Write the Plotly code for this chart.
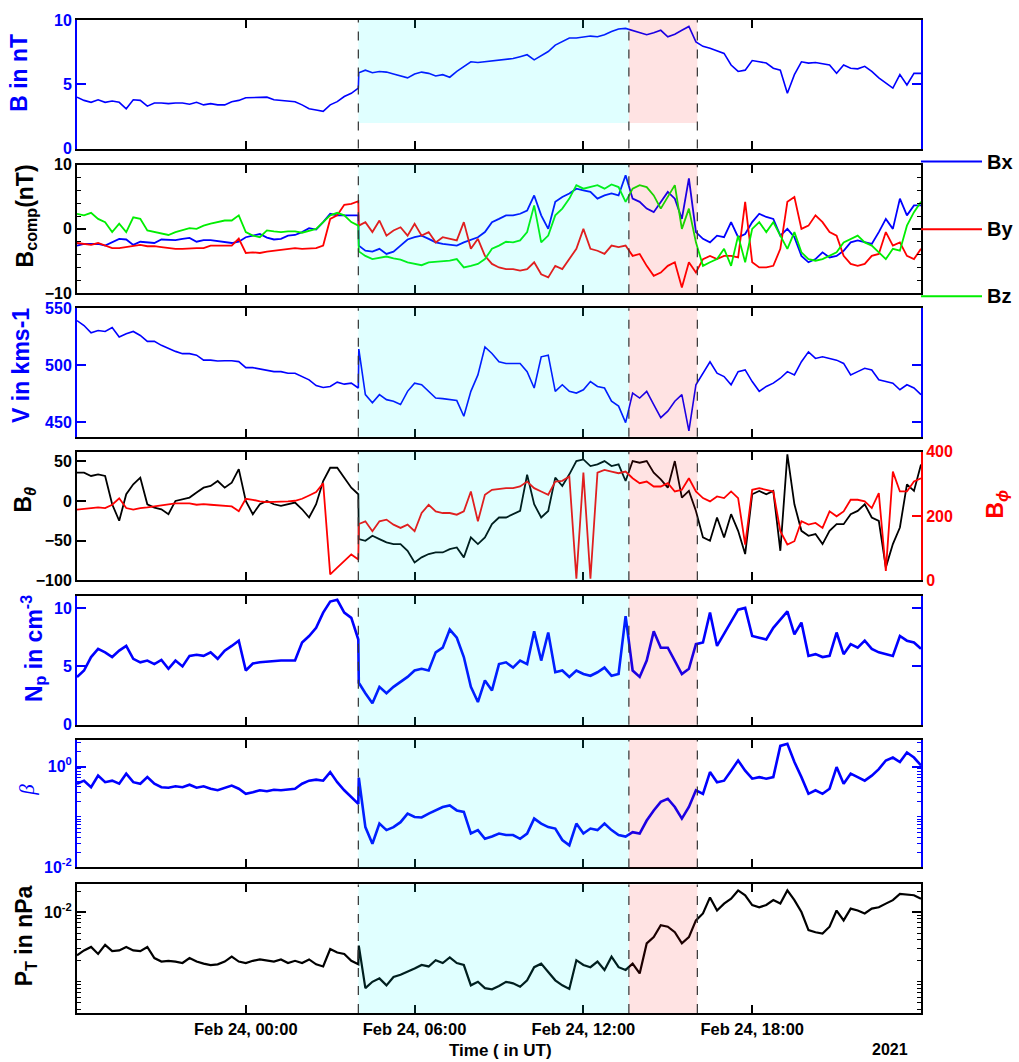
import plotly.graph_objects as go
import pandas as pd

# 15-minute samples, Feb 23 18:00 UT -> Feb 25 00:00 UT,
# plus one extra sample one minute after the shock at 04:00
time = list(pd.date_range("2021-02-23 18:00", "2021-02-25 00:00", freq="15min"))
time.insert(41, pd.Timestamp("2021-02-24 04:01"))

shock = "2021-02-24 04:00"
mc_start = "2021-02-24 13:37"
mc_end = "2021-02-24 16:03"

b_total = [4.0, 3.75, 3.6, 3.8, 3.6, 3.7, 3.6, 3.1, 3.8, 3.75,
           3.3, 3.55, 3.55, 3.5, 3.55, 3.55, 3.45, 3.6, 3.4, 3.5,
           3.4, 3.4, 3.65, 3.75, 3.95, 3.95, 4.0, 4.0, 3.8, 3.75,
           3.7, 3.65, 3.4, 3.1, 3.0, 2.9, 3.4, 3.65, 4.05, 4.3,
           4.7, 5.9, 6.1, 5.9, 6.0, 5.95, 5.8, 5.65, 5.5, 5.8, 5.95,
           5.85, 5.65, 5.75, 5.55, 6.0, 6.4, 6.75, 6.7, 6.75, 6.85,
           6.9, 6.9, 7.0, 7.15, 7.3, 6.9, 7.2, 7.55, 8.05, 8.3,
           8.6, 8.6, 8.7, 8.75, 8.7, 8.85, 9.1, 9.3, 9.35, 9.2,
           9.0, 8.85, 9.0, 9.2, 8.7, 8.9, 9.2, 9.5, 8.3, 7.95,
           7.8, 7.6, 7.4, 6.5, 6.0, 6.1, 6.85, 6.75, 6.65, 6.25,
           6.1, 4.3, 5.75, 6.75, 6.65, 6.7, 6.6, 6.5, 5.85, 6.5,
           6.25, 6.2, 6.4, 6.0, 5.5, 5.1, 4.7, 5.75, 4.95, 5.85,
           5.85]

bx = [-2.6, -2.35, -2.35, -2.35, -2.6, -2.1, -1.55, -1.65, -2.5, -2.0,
      -2.1, -2.2, -1.65, -1.65, -1.75, -1.55, -1.4, -2.0, -1.75, -1.75,
      -1.9, -2.1, -2.2, -2.0, -1.3, -1.05, -0.8, -1.35, -1.65, -1.55,
      -1.05, -0.95, -0.5, 0.1, -0.1, 1.05, 2.35, 2.1, 2.1, 2.1,
      2.1, -2.6, -3.4, -3.55, -3.1, -3.9, -3.55, -2.6, -1.65, -1.3, -1.05,
      -1.55, -2.1, -2.35, -2.5, -2.6, -2.1, -1.65, -1.3, -0.5, 1.05,
      1.55, 2.1, 2.1, 2.35, 2.85, 5.2, 2.1, 0.0, 4.2, 4.95,
      5.5, 6.25, 6.0, 5.75, 4.7, 5.2, 5.5, 5.2, 8.35, 4.7,
      4.2, 3.15, 2.6, 4.2, 5.75, 4.7, 1.55, 7.85, -0.5, -1.55,
      -2.1, -1.05, -1.3, 1.05, -1.3, -0.8, 1.05, 2.35, 1.85, 1.55,
      -1.05, 0.0, -1.3, -4.2, -5.2, -4.7, -3.65, -4.45, -4.2, -3.4,
      -2.1, -1.8, -2.1, -2.35, -0.5, 1.55, 0.0, 4.7, 2.1, 3.65,
      3.65]

by = [-2.2, -2.35, -2.5, -2.2, -2.6, -3.0, -3.0, -2.85, -2.6, -2.5,
      -2.7, -2.7, -2.85, -3.0, -3.1, -3.1, -3.0, -3.0, -3.0, -2.6,
      -2.6, -2.6, -2.6, -1.5, -3.75, -3.65, -3.75, -3.55, -3.4, -3.25,
      -3.1, -3.0, -3.1, -3.0, -3.0, -2.6, 1.55, 2.1, 3.75, 3.9,
      4.3, 0.5, 1.05, -0.5, 1.3, -1.05, -0.25, 0.25, -1.05, 0.8, -1.05,
      -0.5, -2.1, -1.3, -1.55, -1.8, 1.05, -3.1, -1.55, -4.2, -5.45,
      -6.0, -6.25, -6.25, -6.5, -6.25, -5.2, -7.05, -7.55, -5.75, -6.25,
      -4.7, -3.1, 0.0, -3.1, -3.4, -3.9, -2.6, -2.85, -2.6, -4.2,
      -3.9, -5.75, -7.3, -6.8, -5.75, -5.2, -9.1, -5.2, -6.8, -4.7,
      -4.2, -4.7, -4.2, -4.2, -4.45, 4.2, -5.2, -6.0, -6.0, -5.75,
      -3.1, 4.2, 4.95, 0.0, 0.5, 2.1, 1.05, -0.5, -1.05, -4.2,
      -5.45, -5.75, -5.45, -4.2, -3.9, -0.5, -2.6, -2.1, -4.2, -4.7,
      -3.1]

bz = [2.35, 2.1, 2.5, 1.55, 1.05, -0.5, 0.8, -0.5, 1.8, 1.55,
      -0.25, -0.5, -0.8, -0.95, -0.5, -0.25, 0.1, 0.0, 0.5, 0.8,
      1.05, 1.3, 1.3, 2.1, -0.5, -1.05, -1.3, -0.25, -0.4, -0.5,
      -0.4, -0.4, -0.6, -0.25, 0.0, 1.05, 2.1, 2.5, 2.1, 1.05,
      0.5, -3.5, -4.2, -4.7, -4.45, -4.3, -4.6, -4.8, -5.2, -5.45, -5.65,
      -5.2, -5.1, -5.1, -4.95, -4.7, -6.0, -5.75, -5.45, -4.7, -3.1,
      -2.6, -2.0, -2.1, -1.8, -0.5, 3.65, -2.1, -1.05, 2.1, 3.15,
      4.7, 6.8, 6.25, 6.5, 6.8, 6.25, 6.9, 6.5, 4.2, 6.25,
      6.8, 6.5, 5.2, 3.15, 4.95, 6.8, 0.0, 3.15, -2.1, -5.75,
      -5.2, -4.7, -3.1, -5.75, -1.05, -5.2, 0.0, 1.05, -0.5, 1.05,
      -1.05, -3.1, -0.5, -3.65, -4.7, -4.95, -4.7, -4.2, -3.65, -2.1,
      -1.55, -1.05, -2.1, -2.6, -3.65, -4.7, -3.1, -3.4, 0.5, 2.6,
      4.2]

speed = [539, 534.7, 528.3, 530.3, 529.5, 533, 524.6, 527.5, 529.5, 526,
         520.8, 520.8, 517.3, 514.5, 512, 510, 510, 508.7, 504.3, 504.3,
         503.5, 503.8, 503.8, 503, 497.7, 497.7, 496.5, 495.7, 494.2, 494.2,
         492.8, 492.8, 490, 487, 482, 480.3, 481.2, 485, 483.2, 484.1,
         479.8, 514, 474, 466.8, 474, 469.6, 468.2, 465.3, 476.9, 484.1, 482.7,
         476.9, 471, 470.5, 469.6, 468.8, 455, 476.9, 491.3, 515.9, 510.1,
         502.9, 501.4, 501.4, 501.4, 494.2, 479.8, 507.2, 508.7, 476.9, 482.7,
         476.9, 475.4, 478.3, 485.5, 481.2, 479.8, 468.2, 463.9, 449.4, 475.4,
         471, 476.9, 465.3, 453.8, 459.5, 468.2, 474, 442.2, 482.7, 492.8,
         502.9, 492.8, 489.9, 482.7, 494.2, 495.7, 485.5, 476.9, 481.2, 484.1,
         488.4, 494.2, 491.3, 502.9, 511.6, 505.8, 507.2, 505.8, 504.3, 501.4,
         491.3, 494.2, 497.1, 495.7, 487, 485.5, 484.1, 478.3, 482.7, 479.8,
         474]

b_theta = [35.6, 35.6, 31.4, 33.5, 31.4, -4.2, -25, 8.4, 20.9, 29.3,
           -4.2, -8.4, -10.5, -16.7, 0, 2.1, 4.2, 10.5, 16.7, 18.8,
           25.1, 16.7, 23, 40, 0, -16.7, -4.2, 0, -4.2, -6.3,
           -4.2, -2.1, -10.5, -20.9, -4.2, 25.1, 41.8, 41.8, 29.3, 16.7,
           8.4, -48, -50.2, -43.9, -48.1, -52.3, -54.4, -54.4, -62.8, -77.4, -71.1,
           -66.9, -64.9, -64.9, -60.7, -58.6, -71.1, -46, -54.4, -46, -29.3,
           -20.9, -20.9, -16.7, -12.6, 33, -4.2, -20.9, -12.6, 29.3, 18.8,
           33.5, 50.2, 52.3, 43.9, 46, 50.2, 43.9, 46, 25.1, 50.2,
           48.1, 50.2, 35.6, 27.2, 16.7, 50.2, 4.2, 12.6, -12.6, -46,
           -50.2, -20.9, -46, -16.7, -37.7, -66.9, 8.4, 12.6, 8.4, 12.6,
           -62.8, 58.6, -4.2, -37.7, -43.9, -41.8, -54.4, -37.7, -29.3, -29.3,
           -16.7, -12.6, -4.2, -20.9, -25.1, -83.7, -54.4, -33.5, 20.9, 12.6,
           46]

b_phi = [219.6, 222.7, 224.7, 226.8, 224.7, 235, 255, 224.7, 219.6, 224.7,
         226.8, 229.9, 232, 235, 239.2, 239.2, 239.2, 235, 237.1, 235,
         233, 232, 229.9, 215, 253.6, 250.5, 245.4, 243.3, 243.3, 243.3,
         245.4, 247.4, 253.6, 263.9, 274.2, 302, 18.6, 39.2, 59.8, 80.4,
         65, 175, 183.5, 152.6, 183.5, 188.7, 173.2, 162.9, 173.2, 152.6, 209.3,
         235, 214.4, 209.3, 209.3, 204.1, 214.4, 276.3, 183.5, 266, 281.4,
         284.5, 286.6, 286.6, 291.8, 307.2, 286.6, 276.3, 266, 307.2, 309.3,
         322.7, 5, 335, 5, 335, 343.3, 338.1, 333, 338.1, 317.5,
         302, 307.2, 291.8, 291.8, 302, 276.3, 281.4, 317.5, 276.3, 255.7,
         245.4, 260.8, 255.7, 276.3, 255.7, 111.3, 281.4, 286.6, 281.4, 276.3,
         152.6, 111.3, 121.6, 183.5, 173.2, 178.4, 162.9, 214.4, 199, 214.4,
         250.5, 250.5, 245.4, 224.7, 271.1, 28.9, 338.1, 276.3, 276.3, 307.2,
         317.5]

n_p = [4.1, 4.65, 5.8, 6.5, 6.2, 5.8, 6.35, 6.75, 5.65, 5.35,
       5.5, 5.2, 5.55, 4.8, 5.5, 5.0, 5.9, 6.0, 5.9, 6.2,
       5.65, 6.35, 6.75, 7.2, 4.65, 5.25, 5.35, 5.4, 5.5, 5.5,
       5.5, 5.5, 7.05, 7.6, 8.3, 9.6, 10.55, 10.7, 9.6, 9.15,
       7.3, 3.6, 2.7, 1.85, 3.25, 2.7, 3.25, 3.65, 4.1, 4.65, 4.8,
       4.65, 6.2, 6.6, 8.15, 7.45, 5.8, 3.25, 1.95, 3.8, 2.95,
       5.2, 5.35, 4.9, 5.5, 5.2, 8.0, 5.5, 7.9, 4.5, 4.65,
       4.1, 4.65, 4.35, 4.2, 4.5, 4.9, 4.2, 4.35, 9.3, 4.65,
       4.1, 5.5, 8.0, 6.6, 6.6, 5.5, 4.35, 4.8, 6.9, 7.05,
       9.6, 6.75, 7.75, 8.75, 9.85, 10.0, 7.6, 7.45, 7.3, 8.3,
       9.0, 9.7, 7.75, 8.75, 5.9, 6.05, 5.8, 5.9, 7.9, 6.05,
       6.9, 6.6, 7.2, 6.5, 6.2, 6.05, 5.9, 7.6, 7.2, 7.05,
       6.5]

beta = [0.457, 0.525, 0.389, 0.661, 0.49, 0.525, 0.457, 0.724, 0.49, 0.457,
        0.617, 0.457, 0.389, 0.38, 0.407, 0.389, 0.437, 0.38, 0.407, 0.363,
        0.339, 0.38, 0.42, 0.363, 0.288, 0.309, 0.339, 0.324, 0.347, 0.339,
        0.347, 0.363, 0.457, 0.525, 0.55, 0.525, 0.776, 0.49, 0.339, 0.245,
        0.182, 0.6, 0.063, 0.0295, 0.074, 0.055, 0.063, 0.079, 0.117, 0.1, 0.098,
        0.117, 0.135, 0.158, 0.17, 0.135, 0.126, 0.047, 0.055, 0.037, 0.041,
        0.047, 0.044, 0.044, 0.037, 0.047, 0.093, 0.074, 0.063, 0.059, 0.035,
        0.0275, 0.074, 0.047, 0.059, 0.055, 0.074, 0.055, 0.044, 0.041, 0.05,
        0.047, 0.085, 0.135, 0.2, 0.23, 0.158, 0.093, 0.158, 0.339, 0.288,
        0.776, 0.49, 0.525, 0.83, 1.32, 0.83, 0.575, 0.617, 0.575, 0.617,
        2.57, 2.82, 1.23, 0.617, 0.288, 0.339, 0.288, 0.363, 0.977, 0.457,
        0.724, 0.617, 0.525, 0.661, 0.89, 1.32, 1.51, 1.23, 1.9, 1.51,
        1.05]

p_total = [0.0024, 0.00282, 0.00316, 0.00251, 0.00339, 0.00275, 0.00282, 0.00316, 0.00282, 0.00275,
           0.00316, 0.00219, 0.00195, 0.002, 0.00195, 0.00186, 0.00219, 0.00195, 0.00182, 0.00174,
           0.00178, 0.00195, 0.00229, 0.00195, 0.00186, 0.002, 0.00209, 0.002, 0.00195, 0.00209,
           0.00186, 0.002, 0.00186, 0.00209, 0.00178, 0.00166, 0.00295, 0.00263, 0.00251, 0.002,
           0.00178, 0.0033, 0.00081, 0.001, 0.00112, 0.00089, 0.00117, 0.00126, 0.00138, 0.00155, 0.00174,
           0.00166, 0.00204, 0.00186, 0.00224, 0.00186, 0.00174, 0.00089, 0.001, 0.00081, 0.00078,
           0.00087, 0.001, 0.00095, 0.00085, 0.00105, 0.00162, 0.00182, 0.00138, 0.00105, 0.00089,
           0.00079, 0.00204, 0.00174, 0.00162, 0.00195, 0.00148, 0.00229, 0.00162, 0.00148, 0.00182,
           0.00132, 0.00355, 0.00437, 0.00646, 0.00617, 0.00513, 0.00355, 0.00437, 0.00759, 0.00955,
           0.0162, 0.0105, 0.0132, 0.0155, 0.0204, 0.0174, 0.0126, 0.0117, 0.0126, 0.0148,
           0.0132, 0.0204, 0.0148, 0.01, 0.0055, 0.00513, 0.0049, 0.00617, 0.0105, 0.00759,
           0.0112, 0.0105, 0.00955, 0.0112, 0.0117, 0.0132, 0.0148, 0.0182, 0.0178, 0.0174,
           0.0155]

xtick_vals = ["2021-02-24 00:00", "2021-02-24 06:00", "2021-02-24 12:00", "2021-02-24 18:00"]
xtick_text = ["Feb 24, 00:00", "Feb 24, 06:00", "Feb 24, 12:00", "Feb 24, 18:00"]

BLUE, RED, GREEN, BLACK = "#0000ff", "#ff0000", "#00ee00", "#000000"
FONT = "Liberation Sans, Arial, sans-serif"

# page geometry (pixels)
W, H = 1019, 1062
ML, MR, MT, MB = 77, 98, 17, 49
panels_px = [(17, 146), (162, 291), (306, 435), (450, 579),
             (595, 724), (739, 867), (884, 1013)]


def px_x(x):
    return (x - ML) / (W - ML - MR)


def px_y(y):
    return (H - MB - y) / (H - MT - MB)


def tfont(color, size=16):
    return dict(family=FONT, size=size, color=color, weight="bold")


fig = go.Figure()
line = lambda c, w: dict(color=c, width=w)
fig.add_trace(go.Scatter(x=time, y=b_total, xaxis="x", yaxis="y", mode="lines", line=line(BLUE, 1.6)))
fig.add_trace(go.Scatter(x=time, y=bx, xaxis="x2", yaxis="y2", mode="lines", line=line(BLUE, 1.8)))
fig.add_trace(go.Scatter(x=time, y=by, xaxis="x2", yaxis="y2", mode="lines", line=line(RED, 1.8)))
fig.add_trace(go.Scatter(x=time, y=bz, xaxis="x2", yaxis="y2", mode="lines", line=line(GREEN, 1.8)))
fig.add_trace(go.Scatter(x=time, y=speed, xaxis="x3", yaxis="y3", mode="lines", line=line(BLUE, 1.6)))
fig.add_trace(go.Scatter(x=time, y=b_phi, xaxis="x4", yaxis="y8", mode="lines", line=line(RED, 1.8)))
fig.add_trace(go.Scatter(x=time, y=b_theta, xaxis="x4", yaxis="y4", mode="lines", line=line(BLACK, 1.8)))
fig.add_trace(go.Scatter(x=time, y=n_p, xaxis="x5", yaxis="y5", mode="lines", line=line(BLUE, 2.6)))
fig.add_trace(go.Scatter(x=time, y=beta, xaxis="x6", yaxis="y6", mode="lines", line=line(BLUE, 2.6)))
fig.add_trace(go.Scatter(x=time, y=p_total, xaxis="x7", yaxis="y7", mode="lines", line=line(BLACK, 2.2)))

layout = dict(width=W, height=H, margin=dict(l=ML, r=MR, t=MT, b=MB, pad=0),
              paper_bgcolor="white", plot_bgcolor="white", showlegend=False)

for k in range(1, 8):
    sfx = "" if k == 1 else str(k)
    layout["xaxis" + sfx] = dict(
        domain=[0, 1], anchor="y" + sfx, range=[time[0], time[-1]],
        tickmode="array", tickvals=xtick_vals, ticktext=xtick_text,
        showticklabels=(k == 7), tickfont=tfont(BLACK, 16.5),
        ticks="inside", ticklen=8, tickwidth=1.5, tickcolor=BLACK,
        showline=True, linecolor=BLACK, linewidth=2, mirror="ticks",
        showgrid=False, zeroline=False)
    if k > 1:
        layout["xaxis" + sfx]["matches"] = "x"


def yaxis(k, rng, vals, color, mirror=True, text=None, minor=None, log=False):
    top, bot = panels_px[k - 1]
    ax = dict(domain=[px_y(bot), px_y(top)], anchor="x" + ("" if k == 1 else str(k)),
              range=rng, tickmode="array", tickvals=vals,
              ticks="inside", ticklen=9, tickwidth=1.5, tickcolor=color,
              tickfont=tfont(color), showline=True, linecolor=color, linewidth=2,
              mirror="ticks" if mirror else False, showgrid=False, zeroline=False)
    if text is not None:
        ax["ticktext"] = text
    if minor is not None:
        ax["minor"] = dict(tickmode="array", tickvals=minor, ticks="inside",
                           ticklen=4, tickwidth=1.2, tickcolor=color, showgrid=False)
    if log:
        ax["type"] = "log"
    return ax


layout["yaxis"] = yaxis(1, [0, 10], [0, 5, 10], BLUE)
layout["yaxis2"] = yaxis(2, [-10, 10], [-10, 0, 10], BLACK, minor=[-8, -6, -4, -2, 2, 4, 6, 8])
layout["yaxis3"] = yaxis(3, [437, 550], [450, 500, 550], BLUE)
layout["yaxis4"] = yaxis(4, [-100, 62], [-100, -50, 0, 50], BLACK, mirror=False)
layout["yaxis5"] = yaxis(5, [0, 11], [0, 5, 10], BLUE)
layout["yaxis6"] = yaxis(6, [-2, 0.53], [0.01, 1], BLUE,
                         text=["10<sup>-2</sup>", "10<sup>0</sup>"],
                         minor=[0.02, 0.03, 0.04, 0.05, 0.06, 0.07, 0.08, 0.09, 0.1,
                                0.2, 0.3, 0.4, 0.5, 0.6, 0.7, 0.8, 0.9, 2, 3], log=True)
layout["yaxis7"] = yaxis(7, [-3.447, -1.604], [0.01], BLACK,
                         text=["10<sup>-2</sup>"],
                         minor=[0.0004, 0.0005, 0.0006, 0.0007, 0.0008, 0.0009, 0.001,
                                0.002, 0.003, 0.004, 0.005, 0.006, 0.007, 0.008, 0.009, 0.02],
                         log=True)
layout["yaxis8"] = dict(overlaying="y4", anchor="x4", side="right", range=[0, 400],
                        tickmode="array", tickvals=[0, 200, 400], ticks="inside",
                        ticklen=9, tickwidth=1.5, tickcolor=RED, tickfont=tfont(RED),
                        showline=True, linecolor=RED, linewidth=2,
                        showgrid=False, zeroline=False)

# shaded sheath / cloud intervals (drawn over the curves, translucent) and boundaries
shapes = []
for k in range(1, 8):
    sfx = "" if k == 1 else str(k)
    if k == 1:
        yref, y0, y1 = "y", 2, 10
    else:
        yref, y0, y1 = "y" + sfx + " domain", 0, 1
    shapes.append(dict(type="rect", xref="x" + sfx, yref=yref, x0=shock, x1=mc_start,
                       y0=y0, y1=y1, fillcolor="rgba(0,255,255,0.12)", line_width=0, layer="above"))
    shapes.append(dict(type="rect", xref="x" + sfx, yref=yref, x0=mc_start, x1=mc_end,
                       y0=y0, y1=y1, fillcolor="rgba(255,0,0,0.11)", line_width=0, layer="above"))
    for tx in (shock, mc_start, mc_end):
        shapes.append(dict(type="line", xref="x" + sfx, yref="y" + sfx + " domain",
                           x0=tx, x1=tx, y0=0, y1=1, layer="above",
                           line=dict(color="rgb(50,50,50)", width=1.2, dash="dash")))

annotations = []
# legend of the component panel
for name, col, ypx in [("Bx", BLUE, 159), ("By", RED, 227), ("Bz", GREEN, 294)]:
    shapes.append(dict(type="line", xref="paper", yref="paper", x0=px_x(921), x1=px_x(982),
                       y0=px_y(ypx), y1=px_y(ypx), line=dict(color=col, width=2)))
    annotations.append(dict(text=name, x=px_x(985), y=px_y(ypx), xref="paper", yref="paper",
                            xanchor="left", yanchor="middle", showarrow=False,
                            font=tfont(BLACK, 20)))

ylabels = [("B in nT", BLUE, 19, 70),
           ("B<sub>comp</sub>(nT)", BLACK, 26, 214),
           ("V in kms-1", BLUE, 21, 363),
           ("B<sub><i>θ</i></sub>", BLACK, 25, 498),
           ("N<sub>p</sub> in cm<sup>-3</sup>", BLUE, 33, 648),
           ("P<sub>T</sub> in nPa", BLACK, 25, 936),
           ("B<sub><i>ϕ</i></sub>", RED, 997, 502)]
for txt, col, xp, yp in ylabels:
    annotations.append(dict(text=txt, x=px_x(xp), y=px_y(yp), xref="paper", yref="paper",
                            xanchor="center", yanchor="middle", textangle=-90,
                            showarrow=False, font=tfont(col, 23)))
annotations.append(dict(text="<i>β</i>", x=px_x(27), y=px_y(789), xref="paper", yref="paper",
                        xanchor="center", yanchor="middle", textangle=-90, showarrow=False,
                        font=dict(family="Liberation Serif, serif", size=21, color=BLUE)))
annotations.append(dict(text="Time ( in UT)", x=px_x(500), y=px_y(1051), xref="paper", yref="paper",
                        xanchor="center", yanchor="middle", showarrow=False, font=tfont(BLACK, 17)))
annotations.append(dict(text="2021", x=px_x(890), y=px_y(1050), xref="paper", yref="paper",
                        xanchor="center", yanchor="middle", showarrow=False, font=tfont(BLACK, 16)))

layout["shapes"] = shapes
layout["annotations"] = annotations
fig.update_layout(**layout)

# the page is photographed at exactly the figure size, so drop the default body margin
fig.write_html("out.html", config={"displayModeBar": False},
               post_script="document.body.style.margin='0px';document.body.style.overflow='hidden';")
